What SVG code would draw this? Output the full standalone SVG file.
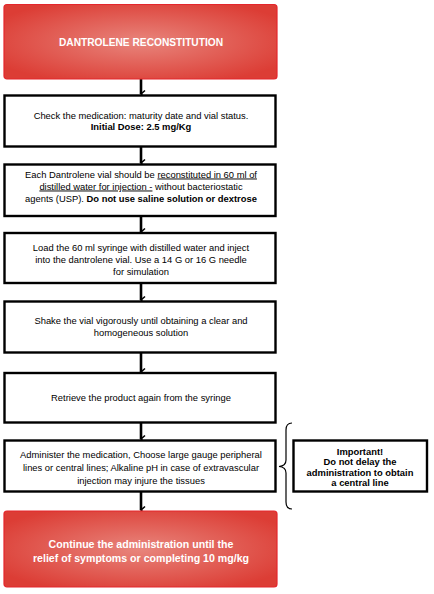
<svg xmlns="http://www.w3.org/2000/svg" width="434" height="594" viewBox="0 0 434 594">
<style>
.box{fill:#fff;stroke:#000;stroke-width:2.4}
.red{fill:url(#rg);stroke:#e4262c;stroke-width:1.2}
.t{font-family:"Liberation Sans",Arial,sans-serif;font-size:9.4px;fill:#000;text-anchor:middle}
.b{font-weight:bold}
.w{font-family:"Liberation Sans",Arial,sans-serif;font-weight:bold;fill:#fff;text-anchor:middle}
.c{stroke:#000;stroke-width:2.6;fill:none}
.u{text-decoration:underline}
</style>
<defs>
<radialGradient id="rg" cx="50%" cy="50%" r="60%">
<stop offset="0" stop-color="#e8857c"/>
<stop offset="1" stop-color="#dc3d35"/>
</radialGradient>
<marker id="ah" markerWidth="10" markerHeight="10" refX="5" refY="8" orient="auto" markerUnits="userSpaceOnUse">
<path d="M1.5,4 L5,8 L8.5,4" fill="none" stroke="#000" stroke-width="1.6"/>
</marker>
</defs>
<g id="connectors">
<line class="c" x1="141" y1="79" x2="141" y2="94" marker-end="url(#ah)"/>
<line class="c" x1="141" y1="147" x2="141" y2="163" marker-end="url(#ah)"/>
<line class="c" x1="141" y1="216" x2="141" y2="232" marker-end="url(#ah)"/>
<line class="c" x1="141" y1="283" x2="141" y2="300" marker-end="url(#ah)"/>
<line class="c" x1="141" y1="353" x2="141" y2="372" marker-end="url(#ah)"/>
<line class="c" x1="141" y1="423" x2="141" y2="439" marker-end="url(#ah)"/>
<line class="c" x1="141" y1="492" x2="141" y2="510" marker-end="url(#ah)"/>
<path d="M292,423 Q286,423 286,430 L286,460 Q286,466 279,466.5 Q286,467 286,473 L286,502 Q286,509 292,509" fill="none" stroke="#000" stroke-width="1.2"/>
</g>
<g id="start">
<rect class="red" x="4" y="4.5" width="273" height="74.5" rx="3"/>
<text class="w" x="141" y="45.5" font-size="10.2">DANTROLENE RECONSTITUTION</text>
</g>
<g id="check">
<rect class="box" x="4.5" y="95.5" width="271" height="51"/>
<text class="t" x="141" y="118.5">Check the medication: maturity date and vial status.</text>
<text class="t b" x="141" y="130">Initial Dose: 2.5 mg/Kg</text>
</g>
<g id="reconstitute">
<rect class="box" x="4.5" y="164.5" width="271" height="51.5"/>
<text class="t" x="141" y="177.5">Each Dantrolene vial should be <tspan class="u">reconstituted in 60 ml of</tspan></text>
<text class="t" x="141" y="189.5"><tspan class="u">distilled water for injection -</tspan> without bacteriostatic</text>
<text class="t" x="141" y="201.5">agents (USP). <tspan class="b">Do not use saline solution or dextrose</tspan></text>
</g>
<g id="load">
<rect class="box" x="4.5" y="233" width="271" height="50"/>
<text class="t" x="141" y="250.5">Load the 60 ml syringe with distilled water and inject</text>
<text class="t" x="141" y="262.5">into the dantrolene vial. Use a 14 G or 16 G needle</text>
<text class="t" x="141" y="274.5">for simulation</text>
</g>
<g id="shake">
<rect class="box" x="4.5" y="301.5" width="271" height="51"/>
<text class="t" x="141" y="324">Shake the vial vigorously until obtaining a clear and</text>
<text class="t" x="141" y="336">homogeneous solution</text>
</g>
<g id="retrieve">
<rect class="box" x="4.5" y="373" width="271" height="49.5"/>
<text class="t" x="141" y="400.5">Retrieve the product again from the syringe</text>
</g>
<g id="administer">
<rect class="box" x="4.5" y="440.5" width="271" height="51"/>
<text class="t" x="141" y="457.5">Administer the medication, Choose large gauge peripheral</text>
<text class="t" x="141" y="470.5">lines or central lines; Alkaline pH in case of extravascular</text>
<text class="t" x="141" y="483.5">injection may injure the tissues</text>
</g>
<g id="important">
<rect class="box" x="293.5" y="440.5" width="133.5" height="51"/>
<text class="t b" x="360" y="455" font-size="8.7">Important!</text>
<text class="t b" x="360" y="465" font-size="8.7">Do not delay the</text>
<text class="t b" x="360" y="475.5" font-size="8.7">administration to obtain</text>
<text class="t b" x="360" y="485.5" font-size="8.7">a central line</text>
</g>
<g id="end">
<rect class="red" x="4" y="511" width="273" height="76" rx="3"/>
<text class="w" x="141" y="547.5" font-size="10.6">Continue the administration until the</text>
<text class="w" x="141" y="562" font-size="10.6">relief of symptoms or completing 10 mg/kg</text>
</g>
</svg>
